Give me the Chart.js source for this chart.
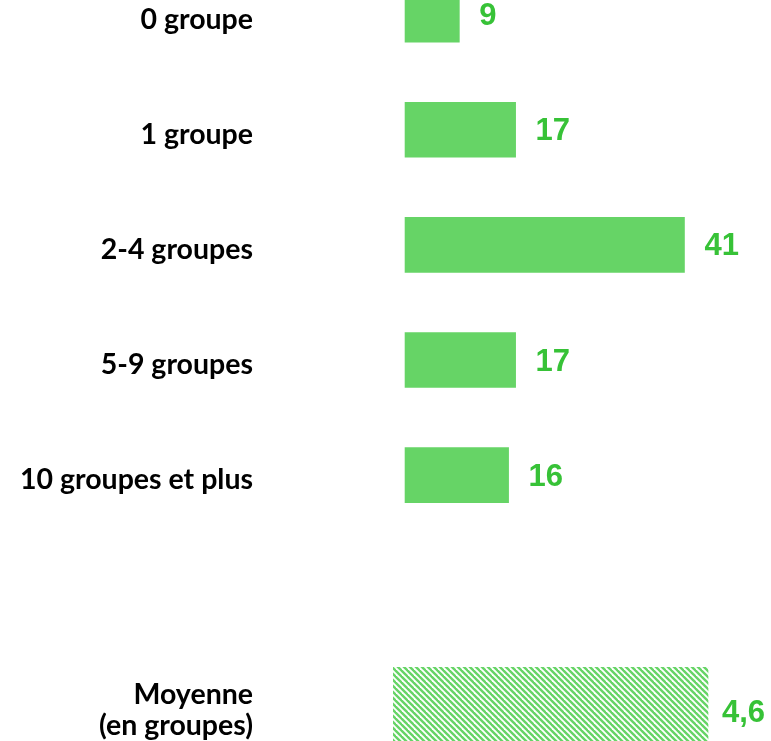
<!DOCTYPE html>
<html>
<head>
<meta charset="utf-8">
<script src="https://cdn.jsdelivr.net/npm/chart.js@4/dist/chart.umd.min.js"></script>
<style>
  html, body { margin: 0; padding: 0; background: #fff; overflow: hidden; }
  #groupChart { position: absolute; left: 0; top: -43px; }
</style>
</head>
<body>
<canvas id="groupChart" width="771" height="806"></canvas>
<script>
const categories = ["0 groupe", "1 groupe", "2-4 groupes", "5-9 groupes", "10 groupes et plus", "", ["Moyenne", "(en groupes)"]];
const shares = [9, 17, 41, 17, 16, null, null];      // % of respondents
const average = [null, null, null, null, null, null, 4.6]; // groups

const barColor = "#66d466";
const textColor = "#37c237";

// diagonal hatch for the average bar
function makeHatch() {
    const tile = document.createElement("canvas");
    tile.width = 6;
    tile.height = 6;
    const c = tile.getContext("2d");
    c.strokeStyle = barColor;
    c.lineWidth = 2.4;
    [-6, 0, 6].forEach((dx) => {
        c.beginPath();
        c.moveTo(dx - 2, -2);
        c.lineTo(dx + 8, 8);
        c.stroke();
    });
    return c.createPattern(tile, "repeat");
}

// value written to the right of each bar
const valueLabels = {
    id: "valueLabels",
    afterDatasetsDraw(chart) {
        const ctx = chart.ctx;
        ctx.save();
        ctx.fillStyle = textColor;
        ctx.font = "bold 31px 'Liberation Sans', Arial, sans-serif";
        ctx.textAlign = "left";
        ctx.textBaseline = "middle";
        chart.data.datasets.forEach((ds, i) => {
            const meta = chart.getDatasetMeta(i);
            meta.data.forEach((bar, j) => {
                const v = ds.data[j];
                if (v === null || v === undefined) return;
                const gap = i === 0 ? 20 : 14;
                ctx.fillText(String(v).replace(".", ","), bar.x + gap, bar.y + (i === 0 ? 2 : 8));
            });
        });
        ctx.restore();
    },
};

const ctx = document.getElementById("groupChart").getContext("2d");

new Chart(ctx, {
    type: "bar",
    data: {
        labels: categories,
        datasets: [
            {
                data: shares,
                xAxisID: "x",
                base: 1.28,
                backgroundColor: barColor,
                barThickness: 55,
            },
            {
                data: average,
                xAxisID: "x2",
                backgroundColor: makeHatch(),
                barThickness: 76,
            },
        ],
    },
    options: {
        indexAxis: "y",
        responsive: false,
        animation: false,
        grouped: false,
        layout: { padding: 0 },
        plugins: {
            legend: { display: false },
            tooltip: { enabled: false },
        },
        scales: {
            x: {
                display: false,
                min: -0.43,
                max: 53.3,
            },
            x2: {
                display: false,
                min: 0,
                max: 5.52,
            },
            y: {
                afterFit: (scale) => {
                    scale.width = 393;
                    // tick padding is only meant to push the labels left
                    scale.paddingTop = 0;
                    scale.paddingBottom = 0;
                },
                border: { display: false },
                grid: { display: false, drawTicks: false },
                ticks: {
                    padding: 140,
                    labelOffset: 5,
                    color: "#000",
                    font: { family: "Lato", weight: "bold", size: 28.5, lineHeight: 1.1 },
                },
            },
        },
    },
    plugins: [valueLabels],
});
</script>
</body>
</html>
